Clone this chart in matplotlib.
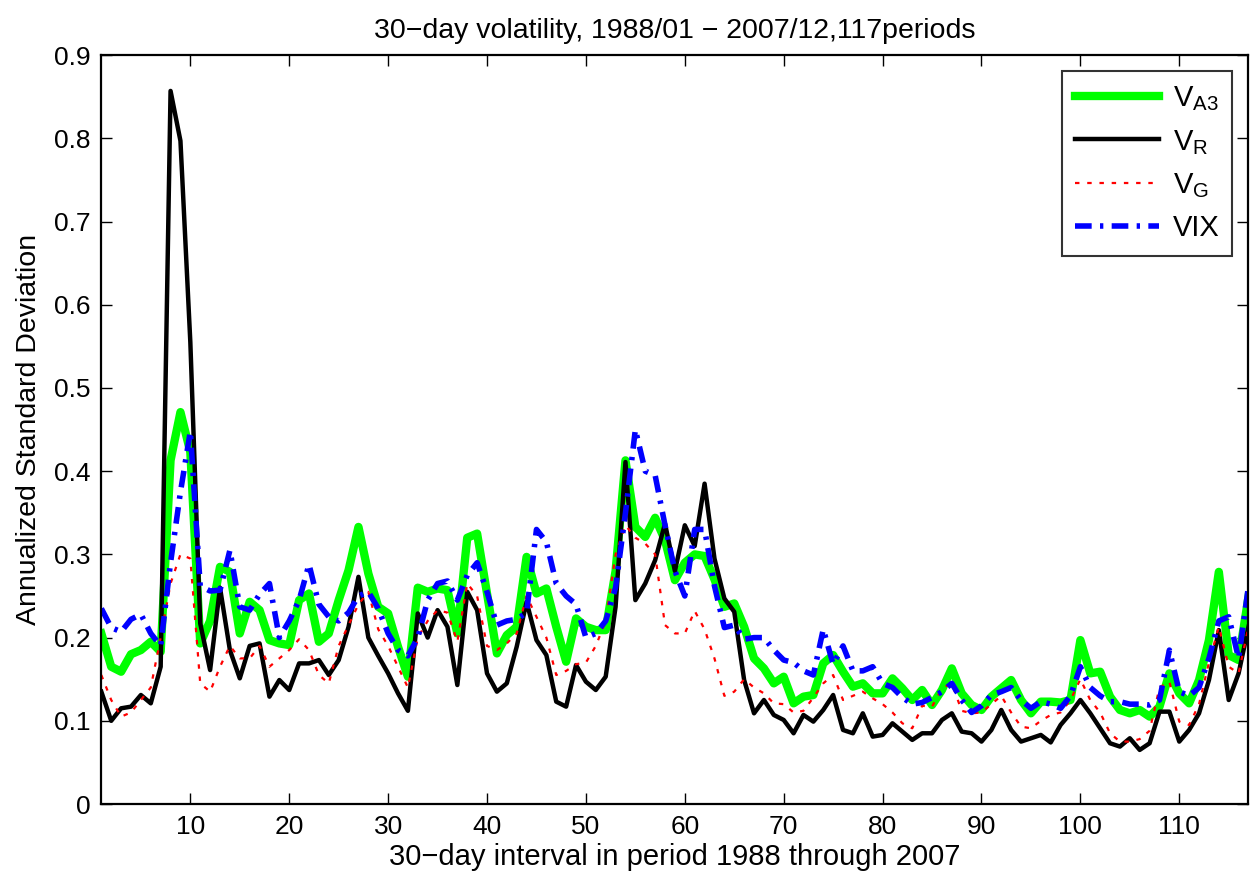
import numpy as np
import matplotlib
matplotlib.use("Agg")
import matplotlib.pyplot as plt

plt.rcParams['font.family'] = ['Liberation Sans', 'DejaVu Sans']
plt.rcParams['mathtext.fontset'] = 'custom'
plt.rcParams['mathtext.rm'] = 'Liberation Sans'

# 30-day interval index
periods = np.arange(1, 118)

v_a3 = [0.205, 0.165, 0.159, 0.180, 0.185, 0.195, 0.183, 0.413, 0.471, 0.423,
        0.193, 0.220, 0.285, 0.279, 0.205, 0.243, 0.233, 0.197, 0.193, 0.191,
        0.245, 0.253, 0.195, 0.205, 0.245, 0.281, 0.333, 0.277, 0.237, 0.229,
        0.189, 0.153, 0.260, 0.255, 0.259, 0.257, 0.205, 0.320, 0.325, 0.253,
        0.181, 0.203, 0.213, 0.297, 0.253, 0.259, 0.213, 0.171, 0.223, 0.213,
        0.209, 0.209, 0.280, 0.413, 0.333, 0.321, 0.344, 0.317, 0.269, 0.290,
        0.300, 0.298, 0.270, 0.237, 0.241, 0.213, 0.175, 0.163, 0.145, 0.153,
        0.121, 0.129, 0.131, 0.169, 0.179, 0.159, 0.141, 0.145, 0.133, 0.133,
        0.151, 0.139, 0.125, 0.137, 0.119, 0.137, 0.163, 0.133, 0.119, 0.113,
        0.129, 0.139, 0.149, 0.125, 0.109, 0.123, 0.123, 0.122, 0.125, 0.197,
        0.157, 0.159, 0.129, 0.113, 0.109, 0.113, 0.105, 0.117, 0.157, 0.133,
        0.121, 0.149, 0.197, 0.279, 0.179, 0.173, 0.249]

v_r = [0.135, 0.100, 0.115, 0.117, 0.131, 0.121, 0.165, 0.857, 0.797, 0.555,
       0.217, 0.161, 0.260, 0.185, 0.151, 0.190, 0.193, 0.129, 0.149, 0.137,
       0.169, 0.169, 0.173, 0.155, 0.173, 0.213, 0.273, 0.200, 0.178, 0.157,
       0.133, 0.112, 0.229, 0.200, 0.233, 0.213, 0.143, 0.255, 0.233, 0.157,
       0.135, 0.145, 0.189, 0.243, 0.197, 0.179, 0.123, 0.117, 0.167, 0.147,
       0.137, 0.153, 0.237, 0.411, 0.245, 0.265, 0.293, 0.337, 0.280, 0.335,
       0.310, 0.385, 0.295, 0.247, 0.231, 0.149, 0.109, 0.125, 0.107, 0.101,
       0.085, 0.107, 0.099, 0.113, 0.131, 0.089, 0.085, 0.109, 0.081, 0.083,
       0.097, 0.087, 0.077, 0.085, 0.085, 0.101, 0.109, 0.087, 0.085, 0.075,
       0.089, 0.113, 0.089, 0.075, 0.079, 0.083, 0.074, 0.095, 0.109, 0.125,
       0.109, 0.091, 0.073, 0.069, 0.079, 0.065, 0.073, 0.111, 0.111, 0.075,
       0.089, 0.109, 0.149, 0.209, 0.125, 0.157, 0.213]

v_g = [0.155, 0.125, 0.105, 0.110, 0.125, 0.140, 0.200, 0.265, 0.300, 0.295,
       0.145, 0.135, 0.165, 0.190, 0.175, 0.175, 0.190, 0.165, 0.175, 0.185,
       0.198, 0.185, 0.155, 0.145, 0.190, 0.215, 0.240, 0.255, 0.210, 0.190,
       0.165, 0.140, 0.200, 0.220, 0.233, 0.230, 0.195, 0.265, 0.250, 0.190,
       0.185, 0.193, 0.205, 0.250, 0.225, 0.200, 0.155, 0.160, 0.168, 0.170,
       0.190, 0.220, 0.300, 0.335, 0.320, 0.313, 0.300, 0.215, 0.205, 0.205,
       0.232, 0.210, 0.175, 0.130, 0.135, 0.150, 0.140, 0.133, 0.121, 0.120,
       0.110, 0.112, 0.128, 0.145, 0.155, 0.125, 0.130, 0.135, 0.127, 0.120,
       0.110, 0.097, 0.091, 0.118, 0.117, 0.139, 0.145, 0.112, 0.109, 0.110,
       0.120, 0.130, 0.110, 0.093, 0.091, 0.100, 0.107, 0.110, 0.125, 0.150,
       0.125, 0.110, 0.085, 0.075, 0.075, 0.078, 0.088, 0.140, 0.147, 0.099,
       0.095, 0.120, 0.170, 0.213, 0.165, 0.157, 0.213]

vix = [0.235, 0.212, 0.207, 0.222, 0.228, 0.205, 0.190, 0.290, 0.375, 0.448,
       0.262, 0.256, 0.257, 0.305, 0.237, 0.233, 0.252, 0.265, 0.200, 0.220,
       0.245, 0.288, 0.240, 0.225, 0.220, 0.230, 0.250, 0.255, 0.235, 0.205,
       0.185, 0.178, 0.200, 0.245, 0.265, 0.268, 0.245, 0.275, 0.290, 0.255,
       0.215, 0.220, 0.222, 0.230, 0.330, 0.315, 0.265, 0.250, 0.240, 0.200,
       0.205, 0.220, 0.260, 0.350, 0.450, 0.400, 0.395, 0.335, 0.280, 0.250,
       0.330, 0.330, 0.262, 0.212, 0.215, 0.198, 0.200, 0.200, 0.185, 0.173,
       0.170, 0.160, 0.155, 0.210, 0.168, 0.190, 0.160, 0.160, 0.165, 0.145,
       0.140, 0.128, 0.120, 0.122, 0.128, 0.135, 0.145, 0.125, 0.110, 0.118,
       0.131, 0.135, 0.140, 0.125, 0.115, 0.123, 0.120, 0.115, 0.130, 0.165,
       0.140, 0.130, 0.123, 0.123, 0.120, 0.120, 0.119, 0.125, 0.185, 0.135,
       0.130, 0.140, 0.175, 0.220, 0.225, 0.175, 0.262]

fig = plt.figure(figsize=(12.51, 8.81), dpi=100)
ax = fig.add_axes([0.081, 0.0874, 0.917, 0.850])

ax.plot(periods, v_a3, color='#00ff00', lw=6, label=r'$\mathregular{V_{A3}}$',
        solid_joinstyle='round')
ax.plot(periods, v_r, color='black', lw=3.2, label=r'$\mathregular{V_R}$')
ax.plot(periods, v_g, color='red', lw=1.6, dashes=(2, 3.5), label=r'$\mathregular{V_G}$')
ax.plot(periods, vix, color='blue', lw=4, dashes=(3, 1.5, 0.6, 1.5), label='VIX')

ax.set_xlim(1, 117)
ax.set_ylim(0, 0.9)
ax.set_xticks(np.arange(10, 111, 10))
ax.set_yticks(np.arange(0, 0.91, 0.1))
ax.set_yticklabels(['0'] + ['%.1f' % v for v in np.arange(0.1, 0.91, 0.1)])
ax.tick_params(direction='in', length=8, width=1, labelsize=19, top=True, right=True, pad=8)
for s in ax.spines.values():
    s.set_linewidth(1.6)

ax.set_title('30\u2212day volatility, 1988/01 \u2212 2007/12,117periods', fontsize=20.5, pad=12)
ax.set_xlabel('30\u2212day interval in period 1988 through 2007', fontsize=21, labelpad=3)
ax.set_ylabel('Annualized Standard Deviation', fontsize=20.5, labelpad=8)

leg = ax.legend(loc='upper right', fontsize=21, handlelength=2.9, frameon=True,
                fancybox=False, edgecolor='black', borderpad=0.45, labelspacing=0.5,
                handletextpad=0.45, borderaxespad=0.55)
leg.get_frame().set_linewidth(1.5)

fig.savefig('out.png', dpi=100)
